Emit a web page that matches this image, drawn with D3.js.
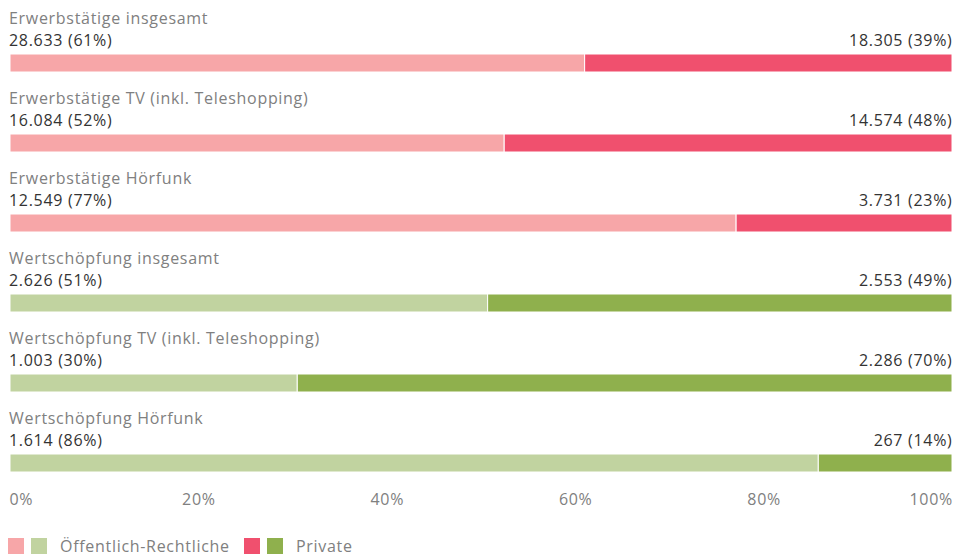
<!DOCTYPE html>
<html>
<head>
<meta charset="utf-8">
<script src="https://cdn.jsdelivr.net/npm/d3@7"></script>
<style>
  html, body { margin: 0; padding: 0; background: #fff; }
  svg { display: block; font-family: "Open Sans", "Noto Sans", sans-serif; letter-spacing: 0.7px; }
</style>
</head>
<body>
<svg id="chart" width="956" height="557"></svg>
<script>
// Rows of the stacked 100% bars
const categories = [
  "Erwerbstätige insgesamt",
  "Erwerbstätige TV (inkl. Teleshopping)",
  "Erwerbstätige Hörfunk",
  "Wertschöpfung insgesamt",
  "Wertschöpfung TV (inkl. Teleshopping)",
  "Wertschöpfung Hörfunk"
];
const publicValues  = [28633, 16084, 12549, 2626, 1003, 1614];
const privateValues = [18305, 14574, 3731, 2553, 2286, 267];
const publicPct  = [61, 52, 77, 51, 30, 86];
const privatePct = [39, 48, 23, 49, 70, 14];
const groups = ["emp", "emp", "emp", "val", "val", "val"];
const tickValues = [0, 0.2, 0.4, 0.6, 0.8, 1];
const legendLabels = ["Öffentlich-Rechtliche", "Private"];

const colors = {
  emp: { pub: "#f7a6a8", priv: "#f0506e" },
  val: { pub: "#c1d3a0", priv: "#8fb04d" }
};

const fmt = d3.formatLocale({ decimal: ",", thousands: ".", grouping: [3], currency: ["", " €"] }).format(",d");

const svg = d3.select("#chart");
const left = 10, right = 952;
const x = d3.scaleLinear().domain([0, 1]).range([left, right]);
const y = d3.scaleBand().domain(d3.range(categories.length)).range([54, 534]).paddingInner(0).paddingOuter(0);
const barH = 18;

const rows = svg.selectAll("g.row").data(categories).join("g")
  .attr("class", "row")
  .attr("transform", (d, i) => `translate(0,${y(i)})`);

rows.append("text")
  .attr("x", left - 1).attr("y", -30)
  .attr("fill", "#808080").attr("font-size", 16)
  .text(d => d);

rows.append("text")
  .attr("x", left - 1).attr("y", -8)
  .attr("fill", "#333").attr("font-size", 16)
  .text((d, i) => `${fmt(publicValues[i])} (${publicPct[i]}%)`);

rows.append("text")
  .attr("x", right + 0.5).attr("y", -8)
  .attr("text-anchor", "end")
  .attr("fill", "#333").attr("font-size", 16)
  .text((d, i) => `${fmt(privateValues[i])} (${privatePct[i]}%)`);

rows.each(function(d, i) {
  const g = d3.select(this);
  const total = publicValues[i] + privateValues[i];
  const share = publicValues[i] / total;
  const c = colors[groups[i]];
  g.append("rect")
    .attr("x", x(0)).attr("y", 0)
    .attr("width", x(share) - x(0)).attr("height", barH)
    .attr("fill", c.pub).attr("stroke", "#fff").attr("stroke-width", 1);
  g.append("rect")
    .attr("x", x(share)).attr("y", 0)
    .attr("width", x(1) - x(share)).attr("height", barH)
    .attr("fill", c.priv).attr("stroke", "#fff").attr("stroke-width", 1);
});

// Percentage axis
const axis = d3.axisBottom(x).tickValues(tickValues).tickFormat(d3.format(".0%")).tickSize(0).tickPadding(0);
const axG = svg.append("g").attr("transform", "translate(0,494)").call(axis);
axG.select(".domain").remove();
axG.selectAll("text")
  .attr("font-size", 16).attr("fill", "#808080").attr("font-family", "Open Sans, Noto Sans, sans-serif")
  .attr("dy", "0.71em")
  .attr("text-anchor", (d, i) => i === 0 ? "start" : (i === tickValues.length - 1 ? "end" : "middle"))
  .attr("x", (d, i) => i === 0 ? -1 : (i === tickValues.length - 1 ? 0.5 : 0));

// Legend
const legend = svg.append("g").attr("transform", "translate(0,538)");
const legendItems = [
  { x: 8, cols: [colors.emp.pub, colors.val.pub], label: legendLabels[0] },
  { x: 244, cols: [colors.emp.priv, colors.val.priv], label: legendLabels[1] }
];
legendItems.forEach(it => {
  legend.append("rect").attr("x", it.x).attr("y", 0).attr("width", 16).attr("height", 16).attr("fill", it.cols[0]);
  legend.append("rect").attr("x", it.x + 23).attr("y", 0).attr("width", 16).attr("height", 16).attr("fill", it.cols[1]);
  legend.append("text").attr("x", it.x + 52).attr("y", 14)
    .attr("font-size", 16).attr("fill", "#808080").text(it.label);
});
</script>
</body>
</html>
